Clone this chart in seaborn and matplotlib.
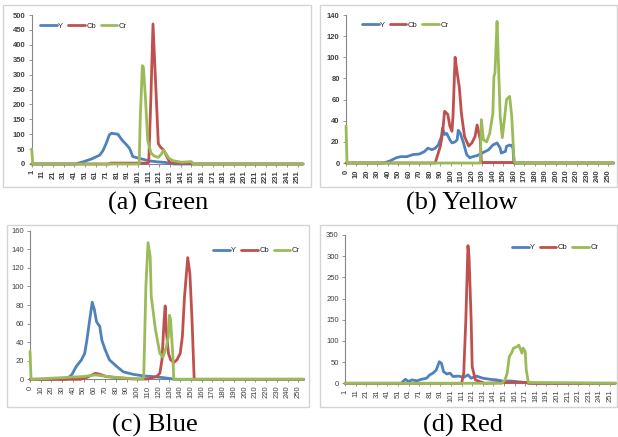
import matplotlib
matplotlib.use("Agg")
import matplotlib.pyplot as plt
from matplotlib.patches import Rectangle
import seaborn as sns
import pandas as pd
import numpy as np

# ---------------- data ----------------
series_names = ["Y", "Cb", "Cr"]
colors = ["#4F81BD", "#C0504D", "#9BBB59"]
captions = ["(a) Green", "(b) Yellow", "(c) Blue", "(d) Red"]

# (a) Green, categories 1..256
a_Y_x = [1, 42, 50, 58, 65, 68, 71, 74, 76, 80, 82, 86, 90, 93, 96, 102, 112, 120, 127, 133, 135, 256]
a_Y = [0, 0, 8, 18, 30, 45, 69, 98, 103, 101, 100, 80, 65, 52, 25, 19, 10, 7, 5, 1, 0, 0]
a_Cb_x = [1, 74, 75, 110, 111, 113, 115, 120, 122, 125, 128, 131, 151, 152, 256]
a_Cb = [0, 0, 3, 3, 6, 220, 470, 68, 57, 47, 25, 4, 2, 0, 0]
a_Cr_x = [1, 2, 102, 103, 105, 106, 108, 110, 113, 116, 120, 123, 125, 126, 130, 134, 142, 151, 153, 256]
a_Cr = [50, 0, 0, 150, 330, 325, 215, 80, 38, 27, 22, 34, 47, 41, 19, 11, 6, 8, 0, 0]

# (b) Yellow, categories 0..255
b_Y_x = [0, 36, 42, 48, 52, 58, 64, 70, 75, 78, 82, 85, 88, 91, 92, 94, 96, 99, 101, 104, 106, 107,
         109, 112, 115, 118, 121, 125, 128, 131, 136, 140, 144, 147, 148, 152, 153, 156, 158, 159, 160, 255]
b_Y = [0, 0, 2, 5, 6, 6, 8, 8.5, 11, 14, 12.6, 14, 17, 25, 33, 27, 28, 22, 19, 20, 22, 31,
       28, 19, 8, 5, 6, 7, 8.5, 10, 12.6, 17, 19, 14, 9.4, 11, 15.7, 17, 16, 17, 0, 0]
b_Cb_x = [0, 85, 90, 92, 94, 97, 99, 101, 102, 104, 106, 108, 110, 113, 117, 120, 123, 125, 128, 129, 130, 159, 160, 255]
b_Cb = [0, 0, 16, 28, 49, 46, 35, 30, 44, 100, 85, 72, 47, 25, 16, 19, 25, 36, 22, 2, 0.5, 0.5, 0, 0]
b_Cr_x = [0, 1, 128, 129, 131, 134, 137, 140, 141, 142, 144, 145, 147, 149, 151, 153, 156, 158, 160, 161, 255]
b_Cr = [35, 0, 0, 41, 22, 20, 28, 47, 82, 85, 134, 104, 44, 24, 41, 60, 63, 44, 6, 0, 0]

# (c) Blue, categories 0..255
c_Y_x = [0, 34, 39, 43, 48, 51, 53, 56, 58, 60, 62, 65, 67, 70, 74, 81, 87, 96, 106, 115, 124, 133, 134, 255]
c_Y = [0, 0, 5, 13.6, 21, 28, 42, 67, 83, 75, 62, 57, 42, 32, 21, 13.6, 8, 5.4, 3.6, 2.9, 1.8, 0.4, 0, 0]
c_Cb_x = [0, 47, 53, 61, 65, 71, 84, 96, 110, 118, 121, 123, 125, 126, 127, 129, 131, 134, 137, 140,
          142, 144, 147, 149, 151, 153, 255]
c_Cb = [0, 0, 2, 6.5, 5.4, 3, 1.4, 0.4, 0.4, 3, 6.5, 21, 64, 79, 53, 28, 21, 18, 21, 28,
        46, 89, 131, 114, 64, 0, 0]
c_Cr_x = [0, 1, 50, 61, 68, 81, 93, 105, 106, 108, 110, 112, 113, 117, 121, 124, 127, 129, 130, 131, 133, 134, 255]
c_Cr = [30, 0, 3, 4.7, 3.6, 2, 1, 0, 3, 100, 147, 132, 89, 53, 28, 24, 35, 46, 69, 64, 28, 0, 0]

# (d) Red, categories 1..256
d_Y_x = [1, 54, 56, 58, 61, 64, 69, 73, 78, 81, 84, 87, 90, 92, 94, 97, 100, 103, 108, 113, 117,
         120, 125, 131, 138, 144, 150, 157, 163, 169, 175, 177, 256]
d_Y = [0, 0, 5, 9.4, 4, 8, 6, 9.4, 12, 20, 24, 31, 51, 47, 27.5, 22, 24, 16, 17, 14, 20,
       12, 17, 12, 9.4, 8, 5, 5.5, 4, 2.4, 0.8, 0, 0]
d_Cb_x = [1, 111, 113, 115, 117, 118, 120, 121, 124, 131, 133, 150, 172, 174, 256]
d_Cb = [0, 0, 24, 150, 325, 300, 150, 39, 8, 1.6, 0, 2, 2, 0, 0]
d_Cr_x = [1, 149, 152, 154, 156, 158, 160, 163, 165, 168, 169, 171, 172, 174, 256]
d_Cr = [0, 0, 8, 24, 63, 71, 83, 86, 90, 71, 83, 75, 31, 2, 0]

# axis settings per panel
ymax = [500, 140, 160, 350]
ystep = [50, 20, 20, 50]
xfirst = [1, 0, 0, 1]

panels = [
    [(a_Y_x, a_Y), (a_Cb_x, a_Cb), (a_Cr_x, a_Cr)],
    [(b_Y_x, b_Y), (b_Cb_x, b_Cb), (b_Cr_x, b_Cr)],
    [(c_Y_x, c_Y), (c_Cb_x, c_Cb), (c_Cr_x, c_Cr)],
    [(d_Y_x, d_Y), (d_Cb_x, d_Cb), (d_Cr_x, d_Cr)],
]

# ---------------- layout (pixels) ----------------
W, H = 618, 437
# (left px of y-axis, px per category, y px of zero, y px of top value)
ax_geom = [
    (31.7, 1.064, 164.0, 15.0),
    (346.0, 1.049, 163.0, 15.0),
    (30.0, 1.073, 379.3, 230.7),
    (345.0, 1.060, 383.3, 235.0),
]
boxes = [(3, 5, 311, 187), (320, 5, 617, 187), (7, 225, 309, 407), (320, 225, 617, 407)]
legend_pos = [(40, 26), (361.7, 25), (213, 250.7), (511.7, 247.7)]
caption_pos = [(158, 210), (462, 210), (155, 432), (463, 432)]

sns.set_style("white")
plt.rcParams["font.family"] = ["Liberation Sans", "DejaVu Sans"]

fig = plt.figure(figsize=(W / 100, H / 100), dpi=100)

for i in range(4):
    bx0, by0, bx1, by1 = boxes[i]
    fig.patches.append(Rectangle((bx0 / W, 1 - by1 / H), (bx1 - bx0) / W, (by1 - by0) / H,
                                 transform=fig.transFigure, fill=False,
                                 edgecolor="#D4D4D4", lw=1.0))

    left, ppu, y0, ytop = ax_geom[i]
    width_px = 255 * ppu
    ax = fig.add_axes([left / W, 1 - y0 / H, width_px / W, (y0 - ytop) / H])

    rows = []
    for name, (xs, ys) in zip(series_names, panels[i]):
        for xv, yv in zip(xs, ys):
            rows.append({"x": xv, "value": yv, "series": name})
    df = pd.DataFrame(rows)
    sns.lineplot(data=df, x="x", y="value", hue="series", hue_order=series_names,
                 palette=colors, estimator=None, lw=2.0, ax=ax)
    for ln in ax.get_lines():
        ln.set_zorder(3)
        ln.set_clip_on(False)

    x0 = xfirst[i]
    ax.set_xlim(x0, x0 + 255)
    ax.set_ylim(0, ymax[i])
    ax.set_xlabel("")
    ax.set_ylabel("")
    ax.set_xticks(np.arange(x0, x0 + 256, 10))
    ax.set_xticklabels([str(v) for v in np.arange(x0, x0 + 256, 10)], rotation=90)
    ax.set_yticks(np.arange(0, ymax[i] + 1, ystep[i]))
    bold = "bold" if i < 2 else "normal"
    for lab in ax.get_xticklabels() + ax.get_yticklabels():
        lab.set_fontsize(5.5)
        lab.set_fontweight(bold)
        lab.set_color("#404040")
    if i >= 2:
        ax.set_xticks(np.arange(x0, x0 + 256, 2), minor=True)
        ax.tick_params(axis="x", which="minor", length=2, width=0.5, color="#868686", direction="out")
    ax.tick_params(axis="both", which="major", length=2.5, width=0.6, color="#868686",
                   pad=2, bottom=True, left=True, direction="out")
    for s in ["top", "right"]:
        ax.spines[s].set_visible(False)
    for s in ["left", "bottom"]:
        ax.spines[s].set_color("#868686")
        ax.spines[s].set_linewidth(0.8)
        ax.spines[s].set_zorder(1)
    ax.set_facecolor("none")

    lx, ly = legend_pos[i]
    sns.move_legend(ax, "center left", bbox_to_anchor=(lx / W, 1 - ly / H),
                    bbox_transform=fig.transFigure, ncol=3, frameon=False, title=None,
                    fontsize=5.5, handlelength=2.2, handletextpad=0.2, columnspacing=0.6,
                    borderpad=0, borderaxespad=0)

    cx, cy = caption_pos[i]
    fig.text(cx / W, 1 - cy / H, captions[i], ha="center", va="baseline",
             fontsize=19, family=["Liberation Serif", "DejaVu Serif"], color="black")

fig.savefig("out.png", dpi=100)
